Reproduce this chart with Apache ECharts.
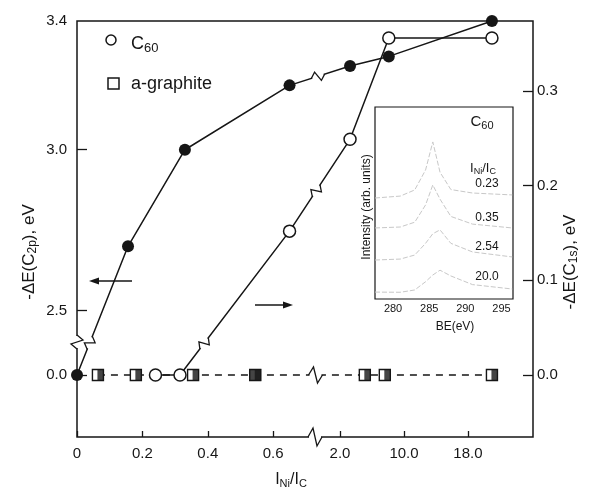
<!DOCTYPE html>
<html>
<head>
<meta charset="utf-8">
<script src="https://cdn.jsdelivr.net/npm/echarts@6.0.0/dist/echarts.min.js"></script>
<style>
  html, body { margin: 0; padding: 0; background: #fff; }
  #chart { width: 597px; height: 489px; }
</style>
</head>
<body>
<div id="chart"></div>
<script>
// ---- data ----
// C60, -dE(C2p) in eV (filled circles, left axis)
const c2pX = [0, 0.156, 0.33, 0.65, 3.25, 8.1, 21];
const c2pY = [0.0, 2.7, 3.0, 3.2, 3.26, 3.29, 3.4];
// C60, -dE(C1s) in eV (open circles, right axis)
const c1sX = [0.24, 0.315, 0.65, 3.25, 8.1, 21];
const c1sY = [0.0, 0.0, 0.152, 0.249, 0.356, 0.356];
// a-graphite: no shift for any coverage
const grX = [0.064, 0.18, 0.355, 0.545, 5.1, 7.6, 21];
const grY = [0, 0, 0, 0, 0, 0, 0];
const grSolidX = [0.545];          // the one fully black square

const xTicks = [0, 0.2, 0.4, 0.6, 2, 10, 18];
const xTickLabels = ['0', '0.2', '0.4', '0.6', '2.0', '10.0', '18.0'];
const leftTicks = [0, 2.5, 3.0, 3.4];
const rightTicks = [0, 0.1, 0.2, 0.3];

// inset: C 1s spectra (arb. units), one per I_Ni/I_C
const beX = [277.5, 281, 283, 284.5, 285.5, 286.5, 288, 291, 296.5];
const spec023 = [0.526, 0.536, 0.568, 0.672, 0.818, 0.66, 0.57, 0.552, 0.542];
const spec035 = [0.37, 0.375, 0.40, 0.49, 0.594, 0.52, 0.43, 0.39, 0.37];
const spec254 = [0.203, 0.208, 0.229, 0.29, 0.34, 0.36, 0.29, 0.245, 0.219];
const spec200 = [0.036, 0.035, 0.047, 0.09, 0.125, 0.15, 0.12, 0.075, 0.052];
const specNames = ['0.23', '0.35', '2.54', '20.0'];
const beTicks = [280, 285, 290, 295];

const INK = '#161616';
const FONT = '"Liberation Sans", Arial, sans-serif';

// the x axis is broken: 0..0.7 keeps its scale, above the break 10 sits at 1.0
// and 8 units take only ~0.2 (echarts breaks can't change scale, so squeeze here)
function bx(v) {
  return v < 1 ? v : (v + 30.9) / 40.9;
}
function pts(xs, ys, f) {
  return xs.map((x, i) => [f ? f(x) : x, ys[i]]);
}

// break mark drawn along a direction (rotation in rad, ccw)
function zig(x, y, rot, a) {
  return {
    type: 'group', x: x, y: y, rotation: rot,
    children: [
      { type: 'rect', z: 50, shape: { x: -6, y: -3, width: 12, height: 6 }, style: { fill: '#fff' } },
      { type: 'polyline', z: 51, shape: { points: [[-7, 0], [-2, -a], [2, a], [7, 0]] },
        style: { stroke: INK, lineWidth: 1.3, fill: null } }
    ]
  };
}

const chart = echarts.init(document.getElementById('chart'));

const lbl = { color: INK, fontFamily: FONT, fontSize: 15 };
const sub = (size) => ({
  a: { fontSize: size, fontFamily: FONT, fill: INK, lineHeight: size + 3 },
  b: { fontSize: Math.round(size * 0.7), fontFamily: FONT, fill: INK, lineHeight: 10, verticalAlign: 'bottom' }
});

let option = {
  animation: false,
  backgroundColor: '#fff',
  grid: [
    { left: 77, right: 64, top: 21, bottom: 52, show: true, borderColor: INK, borderWidth: 1.5 },
    { left: 375, top: 107, width: 138, height: 192, show: true, borderColor: INK, borderWidth: 1.2,
      backgroundColor: '#fff', z: 4 }
  ],
  xAxis: [
    {
      gridIndex: 0, type: 'value', min: 0, max: 1.3945,
      axisLine: { show: false, onZero: false }, splitLine: { show: false },
      axisTick: { inside: true, length: 6, customValues: xTicks.map(bx), lineStyle: { color: INK, width: 1.3 } },
      axisLabel: Object.assign({}, lbl, {
        margin: 9,
        customValues: xTicks.map(bx),
        formatter: (val) => {
          let i = xTicks.findIndex(t => Math.abs(bx(t) - val) < 1e-6);
          return i < 0 ? '' : xTickLabels[i];
        }
      })
    },
    {
      gridIndex: 1, type: 'value', min: 277.5, max: 296.6,
      axisLine: { show: false, onZero: false }, splitLine: { show: false },
      axisTick: { inside: true, length: 4, customValues: beTicks, lineStyle: { color: INK, width: 1 } },
      axisLabel: { customValues: beTicks, color: INK, fontFamily: FONT, fontSize: 11, margin: 4 }
    }
  ],
  yAxis: [
    {
      gridIndex: 0, type: 'value', position: 'left', min: -0.1925, max: 3.4,
      breaks: [{ start: 0.1, end: 2.4, gap: 0 }],
      breakArea: { show: false },
      axisLine: { show: false, onZero: false }, splitLine: { show: false },
      axisTick: { inside: true, length: 10, customValues: [0, 2.5, 3.0], lineStyle: { color: INK, width: 1.3 } },
      axisLabel: Object.assign({}, lbl, { margin: 10, customValues: leftTicks, formatter: v => v.toFixed(1) })
    },
    {
      gridIndex: 0, type: 'value', position: 'right', min: -0.0655, max: 0.374,
      axisLine: { show: false, onZero: false }, splitLine: { show: false },
      axisTick: { inside: true, length: 10, customValues: rightTicks, lineStyle: { color: INK, width: 1.3 } },
      axisLabel: Object.assign({}, lbl, { margin: 4, customValues: rightTicks, formatter: v => v.toFixed(1) })
    },
    { gridIndex: 1, type: 'value', min: 0, max: 1, show: false }
  ],
  series: [
    {
      name: 'a-graphite', type: 'line', xAxisIndex: 0, yAxisIndex: 1, z: 2,
      data: pts(grX, grY, bx),
      symbol: 'rect', symbolSize: 11,
      itemStyle: { color: '#fff', borderColor: INK, borderWidth: 1.4 },
      lineStyle: { color: INK, width: 1.3, type: [7, 6] }
    },
    {
      // right half of the graphite squares is black
      name: 'graphite-half', type: 'scatter', xAxisIndex: 0, yAxisIndex: 1, z: 3,
      data: pts(grX, grY, bx),
      symbol: 'rect', symbolSize: [6, 11], symbolOffset: [2.5, 0],
      itemStyle: { color: INK }
    },
    {
      name: 'graphite-solid', type: 'scatter', xAxisIndex: 0, yAxisIndex: 1, z: 3,
      data: pts(grSolidX, [0], bx),
      symbol: 'rect', symbolSize: 12,
      itemStyle: { color: INK }
    },
    {
      name: 'C2p', type: 'line', xAxisIndex: 0, yAxisIndex: 0, z: 4,
      data: pts(c2pX, c2pY, bx),
      symbol: 'circle', symbolSize: 12,
      itemStyle: { color: INK },
      lineStyle: { color: INK, width: 1.5 }
    },
    {
      name: 'C60', type: 'line', xAxisIndex: 0, yAxisIndex: 1, z: 4,
      data: pts(c1sX, c1sY, bx),
      symbol: 'circle', symbolSize: 12,
      itemStyle: { color: '#fff', borderColor: INK, borderWidth: 1.5 },
      lineStyle: { color: INK, width: 1.5 }
    }
  ].concat([spec023, spec035, spec254, spec200].map((s, i) => ({
    name: specNames[i], type: 'line', xAxisIndex: 1, yAxisIndex: 2, z: 5,
    data: pts(beX, s), symbol: 'none',
    lineStyle: { color: '#c8c8c8', width: 1, type: [5, 2] }
  }))),
  graphic: [
    // legend
    { type: 'circle', shape: { cx: 111, cy: 40, r: 5 }, style: { fill: '#fff', stroke: INK, lineWidth: 1.5 } },
    { type: 'text', x: 131, y: 44, style: { text: '{a|C}{b|60}', fill: INK, verticalAlign: 'middle', rich: sub(18) } },
    { type: 'rect', shape: { x: 108, y: 78, width: 11, height: 11 }, style: { fill: '#fff', stroke: INK, lineWidth: 1.5 } },
    { type: 'text', x: 131, y: 84, style: { text: 'a-graphite', fill: INK, font: '18px ' + FONT, verticalAlign: 'middle' } },

    // arrows telling which axis
    { type: 'line', shape: { x1: 132, y1: 281, x2: 94, y2: 281 }, style: { stroke: INK, lineWidth: 1.3 } },
    { type: 'polygon', shape: { points: [[89, 281], [99, 277.5], [99, 284.5]] }, style: { fill: INK } },
    { type: 'line', shape: { x1: 255, y1: 305, x2: 288, y2: 305 }, style: { stroke: INK, lineWidth: 1.3 } },
    { type: 'polygon', shape: { points: [[293, 305], [283, 301.5], [283, 308.5]] }, style: { fill: INK } },

    // axis titles
    { type: 'text', x: 29, y: 252, rotation: Math.PI / 2, style: {
        text: '{a|-ΔE(C}{b|2p}{a|), eV}', fill: INK, align: 'center', verticalAlign: 'middle', rich: sub(17) } },
    { type: 'text', x: 570, y: 262, rotation: Math.PI / 2, style: {
        text: '{a|-ΔE(C}{b|1s}{a|), eV}', fill: INK, align: 'center', verticalAlign: 'middle', rich: sub(17) } },
    { type: 'text', x: 291, y: 480, style: {
        text: '{a|I}{b|Ni}{a|/I}{b|C}', fill: INK, align: 'center', verticalAlign: 'middle', rich: sub(16) } },

    // inset texts
    { type: 'text', z: 10, x: 367, y: 207, rotation: Math.PI / 2, style: {
        text: 'Intensity (arb. units)', fill: INK, font: '12px ' + FONT, align: 'center', verticalAlign: 'middle' } },
    { type: 'text', z: 10, x: 455, y: 327, style: {
        text: 'BE(eV)', fill: INK, font: '12px ' + FONT, align: 'center', verticalAlign: 'middle' } },
    { type: 'text', z: 10, x: 482, y: 122, style: {
        text: '{a|C}{b|60}', fill: INK, align: 'center', verticalAlign: 'middle', rich: sub(15) } },
    { type: 'text', z: 10, x: 483, y: 168, style: {
        text: '{a|I}{b|Ni}{a|/I}{b|C}', fill: INK, align: 'center', verticalAlign: 'middle', rich: sub(13) } }
  ]
};

// spectrum labels in the inset
[184, 218, 247, 277].forEach((y, i) => {
  option.graphic.push({ type: 'text', z: 10, x: 487, y: y, style: {
    text: specNames[i], fill: INK, font: '12px ' + FONT, align: 'center', verticalAlign: 'middle' } });
});

// break marks on the frame (left axis and x axis)
option.graphic.push(zig(77, 342, Math.PI / 2, 6));
option.graphic.push(zig(315, 437, 0, 9));

chart.setOption(option);

// break marks on the data lines, placed on the drawn segments
function zigOnSegment(yAxisIndex, a, b, t, amp) {
  let p = chart.convertToPixel({ xAxisIndex: 0, yAxisIndex: yAxisIndex }, a);
  let q = chart.convertToPixel({ xAxisIndex: 0, yAxisIndex: yAxisIndex }, b);
  let x = p[0] + (q[0] - p[0]) * t, y = p[1] + (q[1] - p[1]) * t;
  return zig(x, y, Math.atan2(-(q[1] - p[1]), q[0] - p[0]), amp);
}
const c2p = pts(c2pX, c2pY, bx), c1s = pts(c1sX, c1sY, bx), gr = pts(grX, grY, bx);
option.graphic.push(
  zigOnSegment(0, c2p[0], c2p[1], 0.25, 5),
  zigOnSegment(1, c1s[1], c1s[2], 0.22, 5),
  zigOnSegment(0, c2p[3], c2p[4], 0.47, 5),
  zigOnSegment(1, c1s[2], c1s[3], 0.44, 5),
  zigOnSegment(1, gr[3], gr[4], 0.55, 8)
);
chart.setOption({ graphic: option.graphic });
</script>
</body>
</html>
